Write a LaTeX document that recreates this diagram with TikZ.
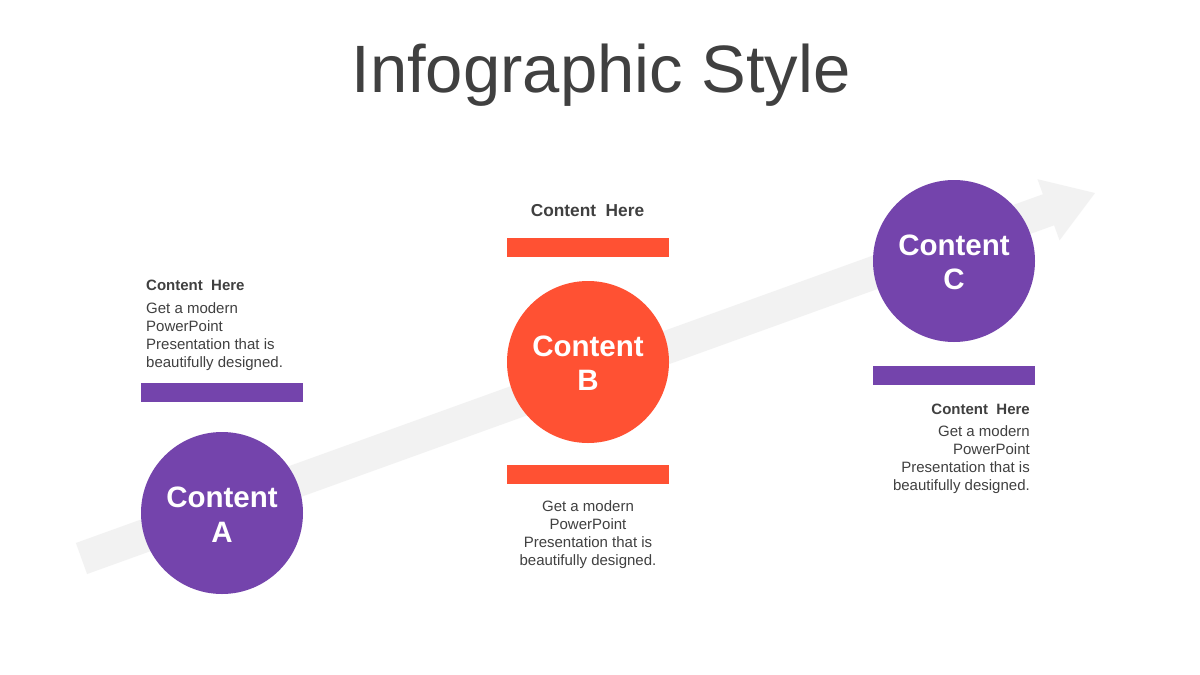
\documentclass[tikz,border=0pt]{standalone}
\usepackage{fontspec}
\setmainfont{Liberation Sans}
\definecolor{txt}{HTML}{404040}
\definecolor{purp}{HTML}{7444AC}
\definecolor{oran}{HTML}{FF5133}
\definecolor{arr}{HTML}{F2F2F2}
\tikzset{
  disc/.style={circle,minimum size=162pt,inner sep=0pt,draw=none},
  bar/.style={rectangle,minimum width=162pt,minimum height=19pt,inner sep=0pt,draw=none},
  disctext/.style={text=white,font=\fontsize{29.5}{35}\selectfont\bfseries,inner sep=0pt},
  headtext/.style={text=txt,font=\fontsize{15}{18}\selectfont\bfseries,inner sep=0pt},
  bigheadtext/.style={text=txt,font=\fontsize{17.3}{20}\selectfont\bfseries,inner sep=0pt},
  bodytext/.style={text=txt,font=\fontsize{15}{18}\selectfont,inner sep=0pt},
}
\begin{document}
\begin{tikzpicture}[x=1pt,y=-1pt]
\useasboundingbox[fill=white] (0,0) rectangle (1200,675);
% arrow
\begin{scope}[shift={(81.5,558.5)},rotate=19.83]
\fill[arr] (0,-16.5) -- (1028,-16.5) -- (1028,-32.5) -- (1077.4,0) -- (1028,32.5) -- (1028,16.5) -- (0,16.5) -- cycle;
\end{scope}
% title
\node[text=txt,font=\fontsize{67}{80}\selectfont,anchor=base,inner sep=0pt] (title) at (601,92) {Infographic Style};
% circles
\node[disc,fill=purp] (ca) at (222,513) {};
\node[disc,fill=oran] (cb) at (588,362) {};
\node[disc,fill=purp] (cc) at (954,261) {};
\node[disctext,anchor=base] (ta1) at (222,507.5) {Content};
\node[disctext,anchor=base] (ta2) at (222,542.5) {A};
\node[disctext,anchor=base] (tb1) at (588,356.5) {Content};
\node[disctext,anchor=base] (tb2) at (588,390.5) {B};
\node[disctext,anchor=base] (tc1) at (954,255.5) {Content};
\node[disctext,anchor=base] (tc2) at (954,289.5) {C};
% bars
\node[bar,fill=purp] (bara) at (222,392.5) {};
\node[bar,fill=oran] (barb1) at (588,247.5) {};
\node[bar,fill=oran] (barb2) at (588,474.5) {};
\node[bar,fill=purp] (barc) at (954,375.5) {};
% texts A (base anchor = last line baseline)
\node[headtext,anchor=base west] (ha) at (146,290) {Content\ \ Here};
\node[bodytext,align=left,anchor=base west] (bda) at (146,367) {Get a modern\\PowerPoint\\Presentation that is\\beautifully designed.};
% texts B
\node[bigheadtext,anchor=base] (hb) at (587.5,216) {Content\ \ Here};
\node[bodytext,align=center,anchor=base] (bdb) at (588,565.5) {Get a modern\\PowerPoint\\Presentation that is\\beautifully designed.};
% texts C
\node[headtext,anchor=base east] (hc) at (1030,414) {Content\ \ Here};
\node[bodytext,align=right,anchor=base east] (bdc) at (1030,490) {Get a modern\\PowerPoint\\Presentation that is\\beautifully designed.};
\end{tikzpicture}
\end{document}
